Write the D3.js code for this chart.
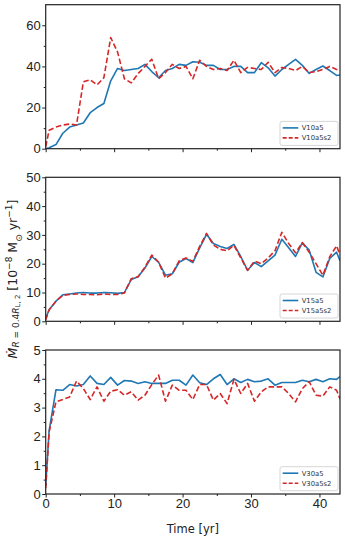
<!DOCTYPE html>
<html>
<head>
<meta charset="utf-8">
<script src="https://cdn.jsdelivr.net/npm/d3@7"></script>
<style>
  body { margin: 0; background: #fff; }
  svg { font-family: "DejaVu Sans", sans-serif; }
  .axis path, .axis line { stroke: #222; }
  .axis text { fill: #222; font-size: 13px; }
</style>
</head>
<body>
<div id="chart"></div>
<script>
// time samples (yr)
const times = [0, 0.5, 1.5, 2.5, 3.5, 4.5, 5.5, 6.5, 7.5, 8.5, 9.5, 10.5, 11.5, 12.5, 13.5, 14.5,
  15.5, 16.5, 17.5, 18.5, 19.5, 20.5, 21.5, 22.5, 23.5, 24.5, 25.5, 26.5, 27.5, 28.5, 29.5,
  30.5, 31.5, 32.5, 33.5, 34.5, 35.5, 36.5, 37.5, 38.5, 39.5, 40.5, 41.5, 42.5, 43];

// mass loss rates, 1e-8 Msun/yr
const v10a5 = [0, 0.5, 2, 7.5, 10.5, 11.5, 12.5, 17.5, 20, 22, 33, 39, 38, 38.5, 39, 41,
  37.5, 34.5, 38, 39, 41, 40.5, 42.3, 42, 40.5, 40.5, 38.5, 38.5, 40, 40, 37, 37,
  41.8, 39.3, 35.3, 38.5, 41, 43.4, 40.5, 36.6, 38.5, 40.2, 38, 35.6, 35.8];
const v10a5s2 = [1, 9, 10.5, 11.5, 12, 11.5, 32.5, 33.5, 31, 34.5, 54, 47, 34, 32, 36.5, 40,
  43.5, 34, 37, 41, 39, 40, 34, 43, 40, 38.5, 39, 38, 43, 37, 39.5, 39,
  38.5, 42, 37, 39.5, 39, 38, 40, 37, 37.5, 38.5, 40, 38.5, 38];
const v15a5 = [1, 4, 7, 9.2, 9.5, 9.8, 10, 9.8, 9.8, 10, 9.9, 9.7, 10, 14.5, 15.5, 18.5,
  22.5, 20.5, 16, 16.5, 20.5, 21.8, 20.4, 25.5, 30.2, 27, 26, 25.3, 26.7, 22.5, 17.7, 20.4,
  19, 21, 23, 28.5, 25.5, 22.5, 27.3, 24.7, 17, 15.4, 21.8, 24, 21];
const v15a5s2 = [0.5, 4, 7, 9, 9.3, 9.5, 9.3, 9.3, 9.2, 9.5, 9.3, 9.3, 9.8, 14.8, 15.5, 18.8,
  23, 20.5, 15, 16.5, 21, 22, 20.8, 26, 30.5, 26.5, 25, 24.5, 26.4, 22, 17.7, 20.9,
  20, 22, 24.5, 30.9, 27, 23.8, 27.3, 24, 20, 16, 22.4, 26.2, 23];
const v30a5 = [0.3, 2.2, 3.62, 3.6, 3.8, 3.75, 3.8, 4.1, 3.84, 3.8, 4.05, 3.78, 3.94, 3.92, 3.84, 3.9,
  3.84, 3.84, 3.84, 3.95, 3.95, 3.78, 4.13, 3.86, 3.8, 4.0, 4.15, 3.8, 4.0, 3.87, 3.98, 3.9,
  3.92, 4.0, 3.78, 3.87, 3.87, 3.87, 3.95, 3.9, 3.98, 3.9, 4.0, 3.98, 4.08];
const v30a5s2 = [0.2, 2.15, 3.2, 3.28, 3.37, 3.92, 3.66, 3.28, 3.72, 3.22, 3.57, 3.62, 3.43, 3.55, 3.26, 3.43,
  3.8, 4.13, 3.22, 3.78, 3.6, 3.6, 3.28, 3.8, 3.8, 3.26, 3.49, 3.14, 3.98, 3.49, 3.84, 3.22,
  3.55, 3.72, 3.72, 3.72, 3.49, 3.2, 3.66, 3.9, 3.43, 3.4, 3.72, 3.6, 3.3];

const solidLabels = ['V10a5', 'V15a5', 'V30a5'];
const dashedLabels = ['V10a5s2', 'V15a5s2', 'V30a5s2'];
const yMax = [70, 50, 5];
const yTicks = [[0, 20, 40, 60], [0, 10, 20, 30, 40, 50], [0, 1, 2, 3, 4, 5]];
const yMinor = [[10, 30, 50], [5, 15, 25, 35, 45], [0.5, 1.5, 2.5, 3.5, 4.5]];
const xTicks = [0, 10, 20, 30, 40];
const xMinor = [5, 15, 25, 35];

const panels = [
  { solid: v10a5, dashed: v10a5s2 },
  { solid: v15a5, dashed: v15a5s2 },
  { solid: v30a5, dashed: v30a5s2 }
];

const W = 345, H = 540;
const left = 45.7, right = 340;
const tops = [4.7, 177.3, 350];
const ph = 144;
const blue = '#1f77b4', red = '#d62728';

const svg = d3.select('#chart').append('svg')
  .attr('width', W).attr('height', H);

const x = d3.scaleLinear().domain([0, 43]).range([left, right]);

svg.append('defs').selectAll('clipPath')
  .data(tops).enter().append('clipPath')
  .attr('id', (d, i) => 'clip' + i)
  .append('rect')
  .attr('x', left).attr('y', d => d)
  .attr('width', right - left).attr('height', ph);

panels.forEach((p, i) => {
  const top = tops[i];
  const y = d3.scaleLinear().domain([0, yMax[i]]).range([top + ph, top]);

  const line = d3.line()
    .x((d, k) => x(times[k]))
    .y(d => y(d));

  const g = svg.append('g').attr('clip-path', `url(#clip${i})`);
  g.append('path').datum(p.solid)
    .attr('d', line).attr('fill', 'none')
    .attr('stroke', blue).attr('stroke-width', 1.6)
    .attr('stroke-linejoin', 'round');
  g.append('path').datum(p.dashed)
    .attr('d', line).attr('fill', 'none')
    .attr('stroke', red).attr('stroke-width', 1.6)
    .attr('stroke-dasharray', '5.5,2.6')
    .attr('stroke-linejoin', 'round');

  // minor ticks
  svg.append('g').attr('class', 'axis')
    .attr('transform', `translate(0,${top + ph})`)
    .call(d3.axisBottom(x).tickValues(xMinor).tickSize(2).tickFormat(''))
    .call(s => s.select('.domain').remove());
  svg.append('g').attr('class', 'axis')
    .attr('transform', `translate(${left},0)`)
    .call(d3.axisLeft(y).tickValues(yMinor[i]).tickSize(2).tickFormat(''))
    .call(s => s.select('.domain').remove());

  // major ticks
  const xa = svg.append('g').attr('class', 'axis')
    .attr('transform', `translate(0,${top + ph})`)
    .call(d3.axisBottom(x).tickValues(xTicks).tickSize(3.5).tickPadding(1.5)
      .tickFormat(i === 2 ? d3.format('d') : ''));
  xa.select('.domain').remove();

  const ya = svg.append('g').attr('class', 'axis')
    .attr('transform', `translate(${left},0)`)
    .call(d3.axisLeft(y).tickValues(yTicks[i]).tickSize(3.5).tickPadding(1.5)
      .tickFormat(d3.format('d')));
  ya.select('.domain').remove();

  // frame
  svg.append('rect')
    .attr('x', left).attr('y', top)
    .attr('width', right - left).attr('height', ph)
    .attr('fill', 'none').attr('stroke', '#222').attr('stroke-width', 1.2);

  // legend
  const lg = svg.append('g').attr('transform', `translate(280,${top + ph - 27.3})`);
  lg.append('rect')
    .attr('x', 0).attr('y', 0).attr('width', 58).attr('height', 24).attr('rx', 2)
    .attr('fill', '#fff').attr('fill-opacity', 0.85)
    .attr('stroke', '#ccc').attr('stroke-width', 0.8);
  const items = [
    { label: solidLabels[i], color: blue, dash: null },
    { label: dashedLabels[i], color: red, dash: '4,2' }
  ];
  items.forEach((it, k) => {
    const yy = 6.5 + k * 10;
    lg.append('line')
      .attr('x1', 2.7).attr('x2', 18.3).attr('y1', yy).attr('y2', yy)
      .attr('stroke', it.color).attr('stroke-width', 1.6)
      .attr('stroke-dasharray', it.dash);
    lg.append('text')
      .attr('x', 21.7).attr('y', yy).attr('dy', '0.35em')
      .style('font-size', '6.8px').attr('fill', '#333')
      .text(it.label);
  });
});

// x label
svg.append('text')
  .attr('x', (left + right) / 2).attr('y', 533)
  .attr('text-anchor', 'middle')
  .style('font-size', '11.5px').attr('fill', '#222')
  .text('Time [yr]');

// y label
const yl = svg.append('text')
  .attr('transform', 'translate(17,279) rotate(-90)')
  .attr('text-anchor', 'middle')
  .style('font-size', '12.5px').attr('fill', '#222');
yl.append('tspan').style('font-style', 'italic').text('\u1E40');
yl.append('tspan').attr('baseline-shift', '-25%').style('font-size', '9px')
  .style('font-style', 'italic').text('R');
yl.append('tspan').attr('baseline-shift', '-25%').style('font-size', '9px').text(' = 0.4');
yl.append('tspan').attr('baseline-shift', '-25%').style('font-size', '9px')
  .style('font-style', 'italic').text('R');
yl.append('tspan').attr('baseline-shift', '-45%').style('font-size', '7px').text('L, 2');
yl.append('tspan').text(' [10');
yl.append('tspan').attr('baseline-shift', 'super').style('font-size', '9px').text('\u22128');
yl.append('tspan').text(' M');
yl.append('tspan').attr('baseline-shift', 'sub').style('font-size', '9px').text('\u2299');
yl.append('tspan').text(' yr');
yl.append('tspan').attr('baseline-shift', 'super').style('font-size', '9px').text('\u22121');
yl.append('tspan').text(']');
</script>
</body>
</html>
